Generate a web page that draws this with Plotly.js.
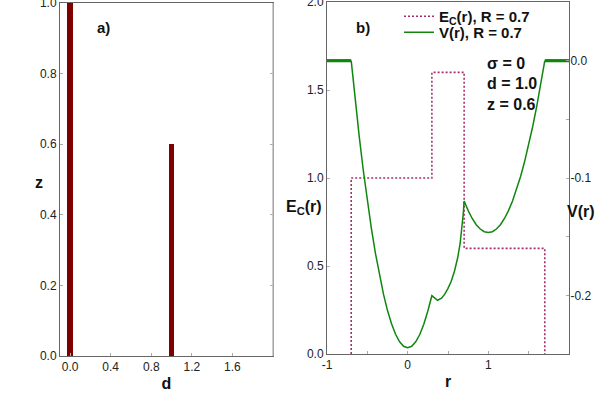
<!DOCTYPE html>
<html>
<head>
<meta charset="utf-8">
<script src="https://cdn.plot.ly/plotly-3.0.1.min.js"></script>
<style>html,body{margin:0;padding:0;background:#fff;}#chart{width:598px;height:408px;}</style>
</head>
<body>
<div id="chart"></div>
<script>
// Panel a): particle positions d and heights z
const dPos = [0.0, 1.0];
const zVal = [1.0, 0.6];

// Panel b): step function E_C(r)
const ecR = [-0.7, -0.7, 0.3, 0.3, 0.7, 0.7, 1.7, 1.7];
const ecE = [0.0, 1.0, 1.0, 1.6, 1.6, 0.6, 0.6, 0.0];

// Panel b): potential V(r) inside the well
const vR = [-0.70, -0.65, -0.60, -0.55, -0.50, -0.45, -0.40, -0.35, -0.30, -0.25, -0.20, -0.15, -0.10, -0.05,
            0.00, 0.05, 0.10, 0.15, 0.20, 0.25, 0.28, 0.30, 0.33, 0.37, 0.42, 0.46, 0.50, 0.54, 0.58, 0.62, 0.65,
            0.67, 0.69, 0.70, 0.72, 0.75, 0.80, 0.85, 0.90, 0.95, 1.00, 1.05, 1.10, 1.15, 1.20, 1.25, 1.30,
            1.35, 1.40, 1.45, 1.50, 1.55, 1.60, 1.65, 1.70];
const vV = [0.0000, -0.0337, -0.0649, -0.0936, -0.1198, -0.1430, -0.1640, -0.1825, -0.1990, -0.2130, -0.2242, -0.2332, -0.2396, -0.2434,
            -0.2446, -0.2434, -0.2396, -0.2334, -0.2246, -0.2134, -0.2050, -0.2003, -0.2020, -0.2042, -0.2025, -0.1990, -0.1940, -0.1880, -0.1795, -0.1680, -0.1560,
            -0.1440, -0.1300, -0.1196, -0.1231, -0.1278, -0.1345, -0.1398, -0.1435, -0.1458, -0.1465, -0.1458, -0.1435, -0.1398, -0.1345, -0.1278, -0.1196,
            -0.1099, -0.0987, -0.0860, -0.0718, -0.0561, -0.0389, -0.0202, 0.0000];
// flat parts of V(r) outside the well
const vFlatLeftR = [-1.0, -0.7];
const vFlatRightR = [1.7, 2.0];
const vFlat = [0.0, 0.0];

// tick values and labels
const aXTicks = [0.0, 0.4, 0.8, 1.2, 1.6];
const aXLabels = ['0.0', '0.4', '0.8', '1.2', '1.6'];
const aYTicks = [0.0, 0.2, 0.4, 0.6, 0.8, 1.0];
const aYLabels = ['0.0', '0.2', '0.4', '0.6', '0.8', '1.0'];
const bXTicks = [-1, 0, 1];
const bXLabels = ['-1', '0', '1'];
const bYTicks = [0.0, 0.5, 1.0, 1.5, 2.0];
const bYLabels = ['0.0', '0.5', '1.0', '1.5', '2.0'];
const vTicks = [-0.2, -0.1, 0.0];
const vLabels = ['-0.2', '-0.1', '0.0'];

const FONT = 'Liberation Sans, Arial, Helvetica, sans-serif';
const green = '#0f870f';
const maroon = '#800000';
const purple = '#a3306c';

const traces = [
  {type: 'bar', x: dPos, y: zVal, width: 0.055, marker: {color: maroon, line: {width: 0}},
   xaxis: 'x', yaxis: 'y', showlegend: false, hoverinfo: 'x+y'},
  {type: 'scatter', mode: 'lines', x: ecR, y: ecE, xaxis: 'x2', yaxis: 'y2',
   name: '<b>E<sub>C</sub>(r), R = 0.7</b>', legend: 'legend',
   line: {color: purple, width: 1.6, dash: '2px,2px'}},
  {type: 'scatter', mode: 'lines', x: vR, y: vV, xaxis: 'x2', yaxis: 'y3',
   name: '<b>V(r), R = 0.7</b>', legend: 'legend2', line: {color: green, width: 1.5}},
  {type: 'scatter', mode: 'lines', x: vFlatLeftR, y: vFlat, xaxis: 'x2', yaxis: 'y3',
   showlegend: false, line: {color: green, width: 3.2}},
  {type: 'scatter', mode: 'lines', x: vFlatRightR, y: vFlat, xaxis: 'x2', yaxis: 'y3',
   showlegend: false, line: {color: green, width: 3.2}}
];

const axBase = {
  showgrid: false, zeroline: false, showline: true, linecolor: '#666', linewidth: 1,
  ticks: 'inside', ticklen: 3, tickcolor: '#aaa', ticklabeloverflow: 'allow',
  tickfont: {family: FONT, size: 12, color: '#222'}, fixedrange: true
};

const legBase = {
  xanchor: 'left', yanchor: 'top', bgcolor: 'rgba(0,0,0,0)', borderwidth: 0,
  font: {family: FONT, size: 15, color: '#111'}
};

function ann(text, px, py, size, xanchor) {
  return {text: text, x: px/598, y: 1 - py/408, xref: 'paper', yref: 'paper', showarrow: false,
          xanchor: xanchor || 'center', yanchor: 'middle',
          font: {family: FONT, size: size, color: '#111'}};
}

const layout = {
  width: 598, height: 408,
  margin: {l: 0, r: 0, t: 0, b: 0},
  paper_bgcolor: '#fff', plot_bgcolor: '#fff',
  font: {family: FONT, color: '#111'},
  bargap: 0,
  xaxis: Object.assign({}, axBase, {
    domain: [60/598, 273/598], range: [-0.1, 2.0], anchor: 'y',
    tickvals: aXTicks, ticktext: aXLabels, mirror: true,
    title: {text: '<b>d</b>', font: {family: FONT, size: 16, color: '#111'}, standoff: 4}
  }),
  yaxis: Object.assign({}, axBase, {
    domain: [52/408, 405/408], range: [0, 1.0], anchor: 'x',
    tickvals: aYTicks, ticktext: aYLabels, mirror: 'ticks'
  }),
  xaxis2: Object.assign({}, axBase, {
    domain: [327/598, 569/598], range: [-1, 2], anchor: 'y2',
    tickvals: bXTicks, ticktext: bXLabels, mirror: true,
    minor: {dtick: 0.5, ticks: 'inside', ticklen: 3, tickcolor: '#aaa'},
    title: {text: '<b>r</b>', font: {family: FONT, size: 16, color: '#111'}, standoff: 4}
  }),
  yaxis2: Object.assign({}, axBase, {
    domain: [54/408, 406/408], range: [0, 2.0], anchor: 'x2',
    tickvals: bYTicks, ticktext: bYLabels
  }),
  yaxis3: Object.assign({}, axBase, {
    domain: [54/408, 406/408], range: [-0.25, 0.05], anchor: 'x2', overlaying: 'y2', side: 'right',
    tickvals: vTicks, ticktext: vLabels, ticklabelstandoff: -2,
    minor: {dtick: 0.05, ticks: 'inside', ticklen: 3, tickcolor: '#aaa'}
  }),
  legend: Object.assign({}, legBase, {x: 399/598, y: 1.0}),
  legend2: Object.assign({}, legBase, {x: 399/598, y: 1 - 16/408}),
  shapes: [
    {type: 'line', xref: 'paper', yref: 'paper', x0: 273/598, x1: 273/598, y0: 52/408, y1: 405/408,
     line: {color: '#bbb', width: 1.5}}
  ],
  annotations: [
    ann('<b>a)</b>', 103, 28, 15),
    ann('<b>b)</b>', 363, 28, 15),
    ann('<b>σ = 0</b>', 485, 63, 16, 'left'),
    ann('<b>d = 1.0</b>', 485, 84, 16, 'left'),
    ann('<b>z = 0.6</b>', 485, 104, 16, 'left'),
    ann('<b>z</b>', 39, 183, 16),
    ann('<b>E<sub>C</sub>(r)</b>', 303.5, 207, 16),
    ann('<b>V(r)</b>', 581, 211, 16)
  ]
};

Plotly.newPlot('chart', traces, layout, {displayModeBar: false, staticPlot: true});
</script>
</body>
</html>
